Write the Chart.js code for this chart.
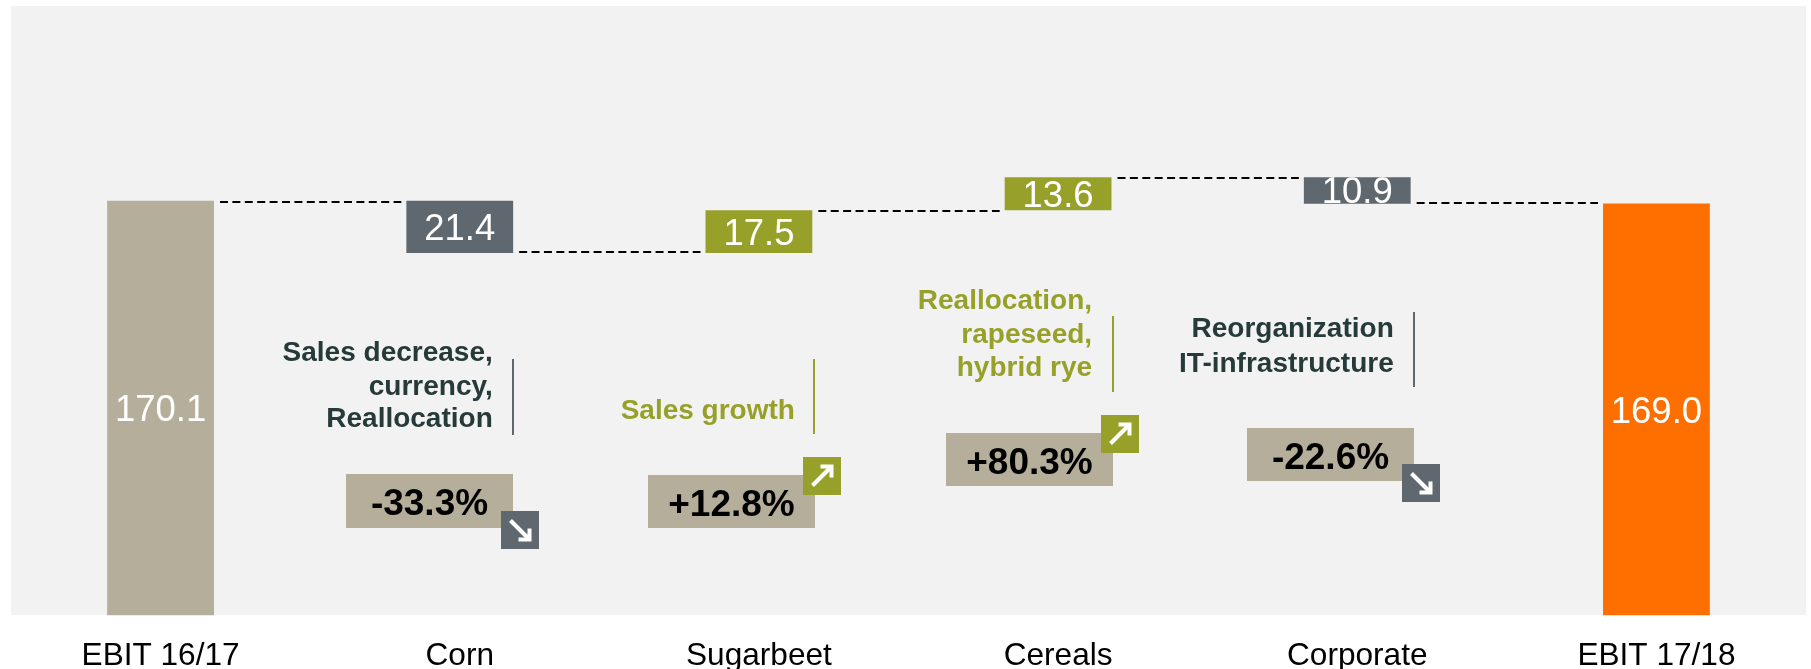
<!DOCTYPE html>
<html>
<head>
<meta charset="utf-8">
<style>
  html, body { margin: 0; padding: 0; background: #ffffff; }
  #wrap { position: relative; width: 1811px; height: 669px; }
</style>
<script src="https://cdn.jsdelivr.net/npm/chart.js@4"></script>
</head>
<body>
<div id="wrap"><canvas id="bridge" width="1811" height="669"></canvas></div>
<script>
// EBIT bridge, in EUR million
const categories = ['EBIT 16/17', 'Corn', 'Sugarbeet', 'Cereals', 'Corporate', 'EBIT 17/18'];
const startValue = 170.1;
const movements = [-21.4, 17.5, 13.6, -10.9];
const endValue = 169.0;
const changeLabels = ['-33.3%', '+12.8%', '+80.3%', '-22.6%'];
const driverLabels = [
  ['Sales decrease,', 'currency,', 'Reallocation'],
  ['Sales growth'],
  ['Reallocation,', 'rapeseed,', 'hybrid rye'],
  ['Reorganization', 'IT-infrastructure']
];

const TAN = '#b4ae9a', SLATE = '#5f686e', OLIVE = '#97a12a', ORANGE = '#ff6f00';
const INK = '#263a3a', PANEL = '#f2f2f2';
const FONT = '"Liberation Sans", Arial, sans-serif';

// Floating bars: each step starts where the previous one ended
const ranges = [[0, startValue]];
let running = startValue;
const levels = [startValue];
for (const m of movements) {
  ranges.push([running, running + m]);
  running += m;
  levels.push(running);
}
ranges.push([0, endValue]);
const barColors = [TAN, ...movements.map(m => m < 0 ? SLATE : OLIVE), ORANGE];
const barText = [startValue, ...movements.map(Math.abs), endValue].map(v => v.toFixed(1));

// Placement of the commentary blocks, relative to each step's column
const blockLayout = [
  { boxTop: 474, boxBottom: 528, boxLeft: -113.5, boxRight: 53.5, badgeLeft: 41.5, badgeTop: 511, textRight: 33, textY: [352, 386, 418], ruleX: 53.5, ruleTop: 359, ruleBottom: 435 },
  { boxTop: 475, boxBottom: 528, boxLeft: -111, boxRight: 56, badgeLeft: 44, badgeTop: 457, textRight: 36, textY: [410], ruleX: 55.5, ruleTop: 359, ruleBottom: 434 },
  { boxTop: 433, boxBottom: 486, boxLeft: -112, boxRight: 55, badgeLeft: 43, badgeTop: 415, textRight: 34, textY: [300, 334, 367], ruleX: 54.5, ruleTop: 316, ruleBottom: 392 },
  { boxTop: 428, boxBottom: 481, boxLeft: -110, boxRight: 57, badgeLeft: 45, badgeTop: 464, textRight: 36.5, textY: [328, 363], ruleX: 56.5, ruleTop: 312, ruleBottom: 387 }
];

function drawArrow(ctx, cx, cy, down) {
  const s = 9.5, dir = down ? 1 : -1;
  ctx.save();
  ctx.strokeStyle = '#ffffff';
  ctx.lineWidth = 4;
  ctx.lineCap = 'butt';
  ctx.lineJoin = 'miter';
  ctx.beginPath();
  ctx.moveTo(cx - s, cy - dir * s);
  ctx.lineTo(cx + s, cy + dir * s);
  ctx.stroke();
  ctx.beginPath();
  ctx.moveTo(cx + s, cy + dir * (s - 11));
  ctx.lineTo(cx + s, cy + dir * s);
  ctx.lineTo(cx + s - 11, cy + dir * s);
  ctx.stroke();
  ctx.restore();
}

const bridgePlugin = {
  id: 'bridgeDecor',
  beforeDatasetsDraw(chart) {
    const { ctx } = chart;
    ctx.save();
    ctx.fillStyle = PANEL;
    ctx.fillRect(11, 6, 1795, 609);
    ctx.restore();
  },
  afterDatasetsDraw(chart) {
    const { ctx, scales } = chart;
    const x = scales.x, y = scales.y;
    const bars = chart.getDatasetMeta(0).data;

    // Value labels inside the bars, cut off by the bar edges when the bar is short
    bars.forEach((bar, i) => {
      const top = Math.min(bar.y, bar.base), bottom = Math.max(bar.y, bar.base);
      ctx.save();
      ctx.beginPath();
      ctx.rect(bar.x - bar.width / 2, top, bar.width, bottom - top);
      ctx.clip();
      ctx.fillStyle = '#ffffff';
      ctx.font = `36.5px ${FONT}`;
      ctx.textAlign = 'center';
      ctx.textBaseline = 'middle';
      ctx.fillText(barText[i], bar.x, (top + bottom) / 2 + 3);
      ctx.restore();
    });

    // Dashed connectors between neighbouring steps
    ctx.save();
    ctx.strokeStyle = '#000000';
    ctx.lineWidth = 2;
    ctx.setLineDash([8, 4.4]);
    levels.forEach((level, i) => {
      const afterDrop = i > 0 && movements[i - 1] < 0;
      const py = Math.round(y.getPixelForValue(level)) + (afterDrop ? -1 : 1);
      const from = bars[i].x + bars[i].width / 2 + 6;
      const to = bars[i + 1].x - bars[i + 1].width / 2 - 5;
      ctx.beginPath();
      ctx.moveTo(from, py);
      ctx.lineTo(to, py);
      ctx.stroke();
    });
    ctx.restore();

    // Commentary: driver text, rule, percentage box and trend badge
    blockLayout.forEach((b, i) => {
      const cx = x.getPixelForValue(i + 1);
      const down = movements[i] < 0;
      const tone = down ? SLATE : OLIVE;
      ctx.save();
      ctx.fillStyle = down ? INK : OLIVE;
      ctx.font = `bold 28px ${FONT}`;
      ctx.textAlign = 'right';
      ctx.textBaseline = 'middle';
      driverLabels[i].forEach((line, k) => ctx.fillText(line, cx + b.textRight, b.textY[k] + 1));

      ctx.fillStyle = tone;
      ctx.fillRect(Math.round(cx + b.ruleX - 1), b.ruleTop, 2, b.ruleBottom - b.ruleTop);

      ctx.fillStyle = TAN;
      const left = Math.round(cx + b.boxLeft), right = Math.round(cx + b.boxRight);
      ctx.fillRect(left, b.boxTop, right - left, b.boxBottom - b.boxTop);
      ctx.fillStyle = '#000000';
      ctx.font = `bold 37px ${FONT}`;
      ctx.textAlign = 'center';
      ctx.fillText(changeLabels[i], (left + right) / 2, (b.boxTop + b.boxBottom) / 2 + 4);

      ctx.fillStyle = tone;
      const badgeX = Math.round(cx + b.badgeLeft);
      ctx.fillRect(badgeX, b.badgeTop, 38, 38);
      drawArrow(ctx, badgeX + 19, b.badgeTop + 19, down);
      ctx.restore();
    });
  }
};

new Chart(document.getElementById('bridge'), {
  type: 'bar',
  data: {
    labels: categories,
    datasets: [{
      data: ranges,
      backgroundColor: barColors,
      borderWidth: 0,
      categoryPercentage: 1,
      barPercentage: 0.357
    }]
  },
  options: {
    responsive: false,
    animation: false,
    layout: { padding: { top: 6, left: 11, right: 5, bottom: 0 } },
    plugins: { legend: { display: false }, tooltip: { enabled: false } },
    scales: {
      x: {
        grid: { display: false, drawTicks: false },
        border: { display: false },
        afterFit(scale) { scale.height = 53.5; },
        ticks: { color: '#000000', font: { family: FONT, size: 31.6 }, padding: 22, maxRotation: 0 }
      },
      y: {
        display: false,
        min: 0,
        max: 250
      }
    }
  },
  plugins: [bridgePlugin]
});
</script>
</body>
</html>
